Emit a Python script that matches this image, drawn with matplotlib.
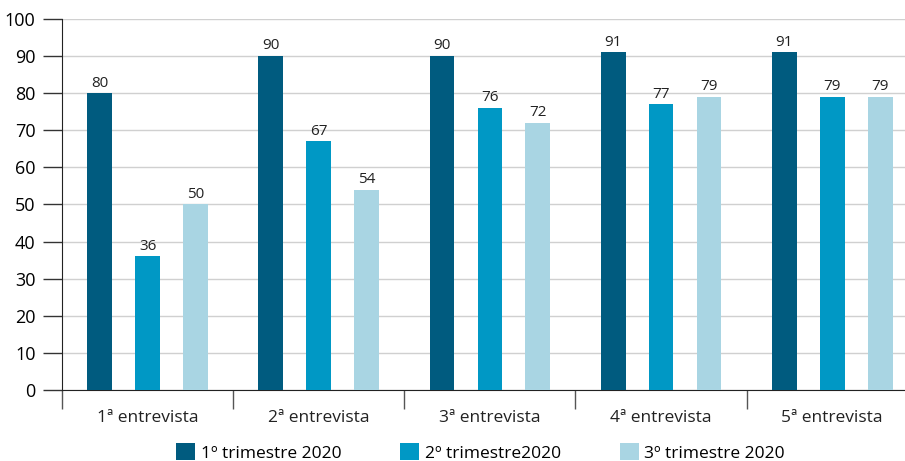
import numpy as np
import matplotlib.pyplot as plt
from matplotlib.patches import Patch

plt.rcParams['font.family'] = ['Open Sans', 'DejaVu Sans']

# Data
categories = ['1ª entrevista', '2ª entrevista', '3ª entrevista', '4ª entrevista', '5ª entrevista']
series_names = ['1º trimestre 2020', '2º trimestre2020', '3º trimestre 2020']
t1 = [80, 90, 90, 91, 91]
t2 = [36, 67, 76, 77, 79]
t3 = [50, 54, 72, 79, 79]
colors = ['#005b7f', '#0098c5', '#a9d5e3']

fig = plt.figure(figsize=(9.05, 4.61), dpi=100)
ax = fig.add_axes([0.0685, 0.154, 0.94, 0.805])

x = np.arange(len(categories))
offset = 0.28
width = 0.145
for i, vals in enumerate([t1, t2, t3]):
    bars = ax.bar(x + (i - 1) * offset, vals, width, color=colors[i], zorder=3)
    for b, v in zip(bars, vals):
        ax.text(b.get_x() + b.get_width() / 2, v + 0.7, str(v),
                ha='center', va='bottom', fontsize=11, color='#222222')

ax.set_ylim(0, 100)
ax.set_xlim(-0.5, 4.47)
ax.set_yticks(range(0, 101, 10))
ax.yaxis.grid(True, color='#d0d0d0', linewidth=1, zorder=0)
ax.tick_params(axis='y', labelsize=13, length=14, width=1, color='#333333', pad=5)

# group separators as x ticks
ax.set_xticks(np.arange(-0.5, 4.5, 1.0))
ax.set_xticklabels([])
ax.tick_params(axis='x', length=14, width=1, color='#555555')
for xi, c in zip(x, categories):
    ax.text(xi, -5.3, c, ha='center', va='top', fontsize=12.5, color='#222222')

for s in ['top', 'right']:
    ax.spines[s].set_visible(False)
ax.spines['left'].set_color('#222222')
ax.spines['bottom'].set_color('#222222')

handles = [Patch(facecolor=c, label=n) for c, n in zip(colors, series_names)]
fig.legend(handles=handles, loc='lower center', bbox_to_anchor=(0.531, -0.035), ncol=3,
           frameon=False, fontsize=12.5, handlelength=1.1, handleheight=1.1,
           handletextpad=0.3, columnspacing=3.4)

fig.savefig('out.png', dpi=100)
